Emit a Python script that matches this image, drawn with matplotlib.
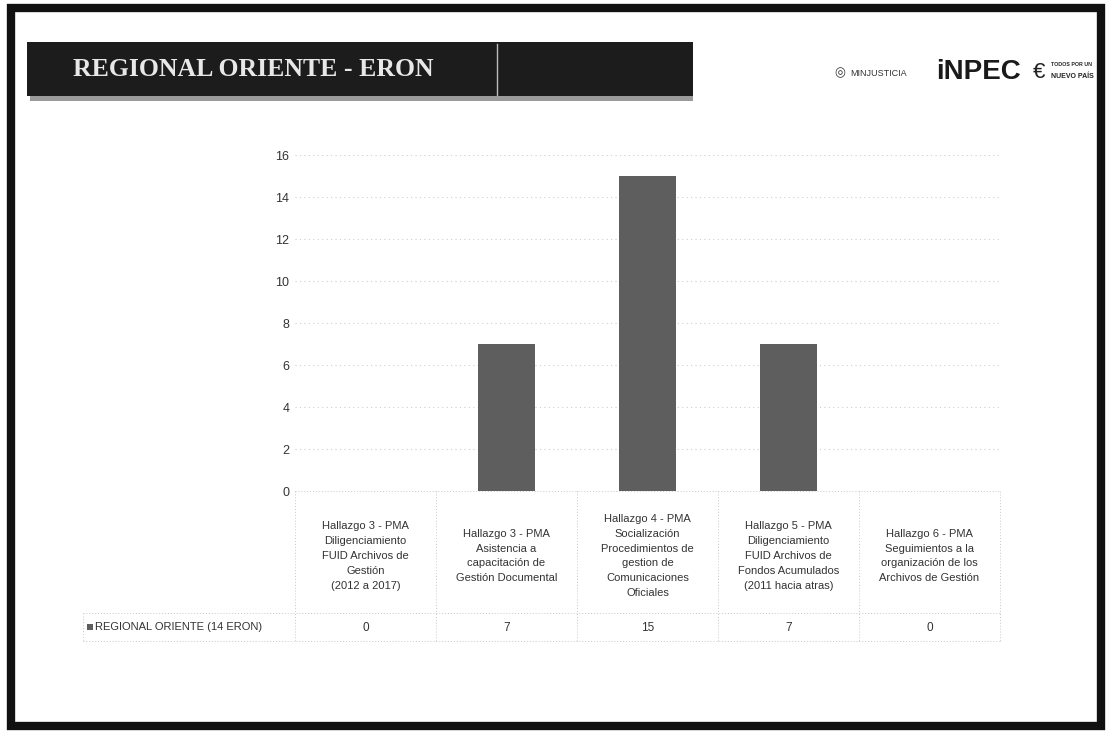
import matplotlib
matplotlib.use("Agg")
import matplotlib.pyplot as plt
from matplotlib.patches import Rectangle

# ---------------------------------------------------------------------------
# data
# ---------------------------------------------------------------------------
categories = [
    "Hallazgo 3 - PMA\nDiligenciamiento\nFUID Archivos de\nGestión\n(2012 a 2017)",
    "Hallazgo 3 - PMA\nAsistencia a\ncapacitación de\nGestión Documental",
    "Hallazgo 4 - PMA\nSocialización\nProcedimientos de\ngestion de\nComunicaciones\nOficiales",
    "Hallazgo 5 - PMA\nDiligenciamiento\nFUID Archivos de\nFondos Acumulados\n(2011 hacia atras)",
    "Hallazgo 6 - PMA\nSeguimientos a la\norganización de los\nArchivos de Gestión",
]
values = [0, 7, 15, 7, 0]
series_name = "REGIONAL ORIENTE (14 ERON)"
y_ticks = [0, 2, 4, 6, 8, 10, 12, 14, 16]
title = "REGIONAL ORIENTE - ERON"

W, H = 1110, 734
plt.rcParams["font.family"] = ["Liberation Sans", "DejaVu Sans"]

fig = plt.figure(figsize=(W / 100, H / 100), dpi=100)
fig.patch.set_facecolor("white")


def px(x0, y0, w, h):
    """pixel box (top-left origin) -> figure fraction rect"""
    return [x0 / W, 1 - (y0 + h) / H, w / W, h / H]


# ── slide frame and header ───────────────────────────────────────────────
bg = fig.add_axes([0, 0, 1, 1])
bg.set_xlim(0, W)
bg.set_ylim(H, 0)
bg.axis("off")
bg.add_patch(Rectangle((11, 8), 1090, 718, facecolor="white",
                       edgecolor="#111111", linewidth=6, zorder=0))
bg.add_patch(Rectangle((30, 95), 663, 6, facecolor="#9a9a9a", edgecolor="none"))
bg.add_patch(Rectangle((27, 42), 666, 54, facecolor="#1c1c1c", edgecolor="none"))
bg.plot([497, 497], [44, 95], color="#bbbbbb", lw=1)
bg.text(73, 70, title, color="#e8e8e8", fontsize=18.5, fontweight="bold",
        family="Liberation Serif", va="center", ha="left")

# logos, as text
bg.text(840, 73, "◎", fontsize=9, color="#333333", va="center", ha="center")
bg.text(850, 73, "MINJUSTICIA", fontsize=6.5, color="#333333", va="center")
bg.text(936, 72, "iNPEC", fontsize=20, fontweight="bold", color="#1a1a1a",
        va="center", ha="left")
bg.text(1039, 73, "€", fontsize=16, color="#222222", va="center", ha="center")
bg.text(1051, 65, "TODOS POR UN", fontsize=3.8, fontweight="bold",
        color="#222222", va="center", ha="left", zorder=5)
bg.text(1051, 77, "NUEVO PAÍS", fontsize=5, fontweight="bold",
        color="#222222", va="center", ha="left", zorder=5)

# ── chart ────────────────────────────────────────────────────────────────
x_left, x_right = 295, 1000
y_top, y_bot = 155, 491
ax = fig.add_axes(px(x_left, y_top, x_right - x_left, y_bot - y_top))
ax.set_facecolor("none")

x = list(range(len(categories)))
ax.bar(x, values, width=0.4, color="#5e5e5e", zorder=3)
ax.set_xlim(-0.5, len(categories) - 0.5)
ax.set_ylim(0, 16)
ax.set_yticks(y_ticks)
ax.tick_params(axis="y", length=0, pad=4, labelsize=9, labelcolor="#333333")
ax.set_xticks([])
ax.yaxis.grid(True, color="#cccccc", linestyle=(0, (1, 3)), linewidth=0.8)
for s in ax.spines.values():
    s.set_visible(False)

# ── data table below the axis ────────────────────────────────────────────
tab = fig.add_axes([0, 0, 1, 1])
tab.set_xlim(0, W)
tab.set_ylim(H, 0)
tab.axis("off")
col_w = (x_right - x_left) / len(categories)
line_kw = dict(color="#c8c8c8", lw=0.7, linestyle=(0, (1, 2)))
tab.plot([x_left, x_right], [y_bot, y_bot], **line_kw)
tab.plot([83, x_right], [613, 613], **line_kw)
tab.plot([83, x_right], [641, 641], **line_kw)
for i in range(len(categories) + 1):
    xx = x_left + i * col_w
    tab.plot([xx, xx], [y_bot, 641], **line_kw)
tab.plot([83, 83], [613, 641], **line_kw)

for i, (cat, v) in enumerate(zip(categories, values)):
    cx = x_left + (i + 0.5) * col_w
    tab.text(cx, 556, cat, ha="center", va="center", fontsize=8,
             color="#333333", linespacing=1.6)
    tab.text(cx, 628, str(v), ha="center", va="center", fontsize=8.5,
             color="#333333")

tab.add_patch(Rectangle((87, 624), 6, 6, facecolor="#5e5e5e", edgecolor="none"))
tab.text(95, 627, series_name, ha="left", va="center", fontsize=8,
         color="#333333")

fig.savefig("out.png", dpi=100)
